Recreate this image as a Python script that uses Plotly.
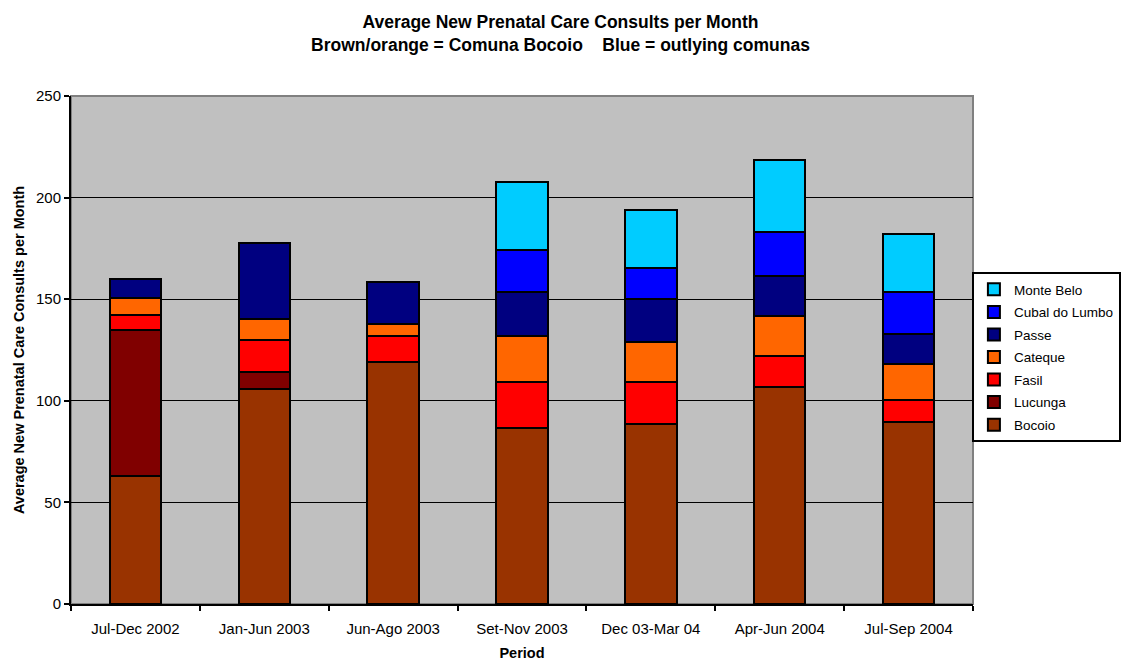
import plotly.graph_objects as go

periods = ["Jul-Dec 2002", "Jan-Jun 2003", "Jun-Ago 2003", "Set-Nov 2003",
           "Dec 03-Mar 04", "Apr-Jun 2004", "Jul-Sep 2004"]

# average new consults per month, by comuna (stacked bottom to top)
bocoio = [63, 106, 119, 86.7, 88.6, 107, 89.6]
lucunga = [72, 8, 0, 0, 0, 0, 0]
fasil = [7, 16, 13, 22.5, 20.8, 15, 11]
cateque = [8.7, 10.5, 5.7, 22.7, 19.5, 19.7, 17.4]
passe = [9, 37, 21, 21.6, 21, 19.7, 15]
cubal_do_lumbo = [0, 0, 0, 20.7, 15.5, 21.8, 20.5]
monte_belo = [0, 0, 0, 33.3, 28.5, 35.3, 28.5]

series = [
    ("Bocoio", bocoio, "#993300"),
    ("Lucunga", lucunga, "#800000"),
    ("Fasil", fasil, "#FF0000"),
    ("Cateque", cateque, "#FF6600"),
    ("Passe", passe, "#000080"),
    ("Cubal do Lumbo", cubal_do_lumbo, "#0000FF"),
    ("Monte Belo", monte_belo, "#00CCFF"),
]

FONT = "Liberation Sans, Arial, sans-serif"

fig = go.Figure()
n = len(series)
for i, (name, vals, color) in enumerate(series):
    fig.add_trace(go.Bar(
        x=periods, y=vals, name=name, legendgroup=name,
        legendrank=n - i,  # top of the stack listed first
        marker=dict(color=color, line=dict(color="black", width=2)),
    ))

# grey frame on the top and right of the plotting area
fig.add_shape(type="rect", xref="paper", yref="paper", x0=0, y0=0, x1=1, y1=1,
              line=dict(color="#808080", width=2), layer="below")

fig.update_layout(
    width=1121, height=662,
    barmode="stack", bargap=0.6,
    paper_bgcolor="white", plot_bgcolor="#C0C0C0",
    margin=dict(l=71, r=148, t=96, b=58, autoexpand=False),
    font=dict(family=FONT, size=15, color="black"),
    title=dict(
        text="Average New Prenatal Care Consults per Month<br>"
             "Brown/orange = Comuna Bocoio    Blue = outlying comunas",
        x=0.5, xref="container", xanchor="center",
        y=0.958, yref="container", yanchor="middle",
        font=dict(family=FONT, size=17.5, color="black", weight="bold"),
    ),
    legend=dict(
        traceorder="grouped", tracegroupgap=2,
        xref="container", yref="container",
        x=0.867, xanchor="left", y=0.589, yanchor="top",
        bgcolor="white", bordercolor="black", borderwidth=2,
        font=dict(family=FONT, size=13.5, color="black"),
        itemwidth=30,
    ),
    xaxis=dict(
        automargin=False,
        tickson="boundaries", ticks="outside", ticklen=5, tickcolor="black",
        tickwidth=2, showline=True, linecolor="black", linewidth=2,
        ticklabelstandoff=10,
        tickfont=dict(family=FONT, size=15, color="black"),
        title=dict(text="<b>Period</b>", standoff=12,
                   font=dict(family=FONT, size=14.5, color="black")),
    ),
    yaxis=dict(
        automargin=False,
        range=[0, 250], dtick=50, ticks="outside", ticklen=5,
        tickcolor="black", tickwidth=2, showline=True, linecolor="black",
        linewidth=2, showgrid=True, gridcolor="black", gridwidth=1,
        zeroline=False,
        tickfont=dict(family=FONT, size=15, color="black"),
        title=dict(text="<b>Average New Prenatal Care Consults per Month</b>",
                   standoff=8,
                   font=dict(family=FONT, size=14.5, color="black")),
    ),
)

fig.write_html("out.html")
